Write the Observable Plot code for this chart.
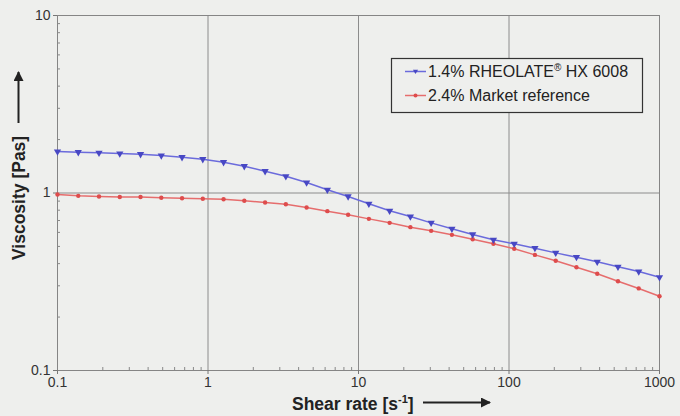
<!DOCTYPE html>
<html>
<head>
<meta charset="utf-8">
<script src="https://cdn.jsdelivr.net/npm/d3@7"></script>
<script src="https://cdn.jsdelivr.net/npm/@observablehq/plot@0.6"></script>
<style>
  html, body { margin: 0; padding: 0; background: #eeefed; }
  #chart svg { display: block; }
</style>
</head>
<body>
<div id="chart"></div>
<script>
// Shear rate [1/s] (30 log-spaced points, 0.1 .. 1000)
const shearRate = [0.1, 0.1374, 0.1887, 0.2593, 0.3562, 0.4894, 0.6723, 0.9237,
  1.269, 1.743, 2.395, 3.290, 4.520, 6.210, 8.532, 11.72, 16.10, 22.12, 30.39,
  41.75, 57.36, 78.80, 108.3, 148.7, 204.3, 280.7, 385.7, 529.8, 727.9, 1000];
// Viscosity [Pas]
const viscRheolate = [1.713, 1.698, 1.685, 1.669, 1.654, 1.627, 1.591, 1.550,
  1.491, 1.416, 1.327, 1.243, 1.146, 1.042, 0.956, 0.869, 0.794, 0.737, 0.679,
  0.629, 0.584, 0.545, 0.517, 0.489, 0.460, 0.435, 0.410, 0.384, 0.361, 0.335];
const viscMarket = [0.981, 0.964, 0.956, 0.950, 0.950, 0.941, 0.934, 0.928,
  0.923, 0.904, 0.884, 0.865, 0.829, 0.790, 0.754, 0.715, 0.679, 0.642, 0.612,
  0.581, 0.549, 0.517, 0.485, 0.448, 0.415, 0.382, 0.351, 0.318, 0.290, 0.262];
const seriesNames = ["1.4% RHEOLATE® HX 6008", "2.4% Market reference"];
const xTicks = [0.1, 1, 10, 100, 1000];
const yTicks = [0.1, 1, 10];
const xMinor = [0.2,0.3,0.4,0.5,0.6,0.7,0.8,0.9, 2,3,4,5,6,7,8,9, 20,30,40,50,60,70,80,90, 200,300,400,500,600,700,800,900];
const yMinor = [0.2,0.3,0.4,0.5,0.6,0.7,0.8,0.9, 2,3,4,5,6,7,8,9];

const colors = {
  blueLine: "#6b6bdc", blueDot: "#4848c4",
  redLine: "#e66d6d", redDot: "#de4c4c"
};

const rheo = shearRate.map((x, i) => ({x, y: viscRheolate[i]}));
const market = shearRate.map((x, i) => ({x, y: viscMarket[i]}));
const fmt = d => `${d}`;
const FONT = "'Liberation Sans', Arial, sans-serif";

const plot = Plot.plot({
  width: 680,
  height: 416,
  marginLeft: 57,
  marginRight: 21,
  marginTop: 15,
  marginBottom: 46,
  style: {background: "#eeefed", fontFamily: FONT, fontSize: "14px", color: "#333"},
  x: {type: "log", domain: [0.1, 1000]},
  y: {type: "log", domain: [0.1, 10]},
  marks: [
    Plot.gridX([1, 10, 100], {stroke: "#8c8c8c", strokeOpacity: 1, strokeWidth: 1}),
    Plot.gridY([1], {stroke: "#8c8c8c", strokeOpacity: 1, strokeWidth: 1}),
    Plot.frame({stroke: "#858585", strokeWidth: 1}),
    Plot.axisX(xMinor, {tickSize: -3, tickFormat: () => "", label: null, stroke: "#888"}),
    Plot.axisY(yMinor, {tickSize: -3, tickFormat: () => "", label: null, stroke: "#888"}),
    Plot.axisX(xTicks, {tickSize: 4, tickPadding: 3, tickFormat: fmt, label: null, stroke: "#777", fill: "#333", fontSize: 14}),
    Plot.axisY(yTicks, {tickSize: 4, tickPadding: 3, tickFormat: fmt, label: null, stroke: "#777", fill: "#333", fontSize: 14}),
    Plot.line(market, {x: "x", y: "y", stroke: colors.redLine, strokeWidth: 1.5}),
    Plot.dot(market, {x: "x", y: "y", r: 2.2, fill: colors.redDot, stroke: null}),
    Plot.line(rheo, {x: "x", y: "y", stroke: colors.blueLine, strokeWidth: 1.5}),
    Plot.dot(rheo, {x: "x", y: "y", symbol: "triangle", rotate: 180, r: 2.7, fill: colors.blueDot, stroke: null})
  ]
});

document.getElementById("chart").appendChild(plot);

const svg = d3.select(plot);
const defs = svg.append("defs");
defs.append("marker").attr("id", "arrowhead").attr("viewBox", "0 0 10 10")
  .attr("refX", 9).attr("refY", 5).attr("markerWidth", 5).attr("markerHeight", 5)
  .attr("orient", "auto-start-reverse").attr("markerUnits", "strokeWidth")
  .append("path").attr("d", "M0,0L10,5L0,10z").attr("fill", "#222");

// X axis title
const xt = svg.append("text").attr("x", 292).attr("y", 410).attr("text-anchor", "start")
  .attr("font-size", 17.5).attr("font-weight", "bold").attr("fill", "#222")
  .attr("font-family", FONT);
xt.append("tspan").text("Shear rate [s");
xt.append("tspan").attr("font-size", 11).attr("dy", -7).text("-1");
xt.append("tspan").attr("dy", 7).text("]");
svg.append("line").attr("x1", 423).attr("x2", 490).attr("y1", 402.5).attr("y2", 402.5)
  .attr("stroke", "#222").attr("stroke-width", 2).attr("marker-end", "url(#arrowhead)");

// Y axis title
svg.append("text").attr("transform", "translate(24.5,260) rotate(-90)").attr("text-anchor", "start")
  .attr("font-size", 17.5).attr("font-weight", "bold").attr("fill", "#222")
  .attr("font-family", FONT)
  .text("Viscosity [Pas]");
svg.append("line").attr("x1", 18.5).attr("x2", 18.5).attr("y1", 123).attr("y2", 72)
  .attr("stroke", "#222").attr("stroke-width", 2).attr("marker-end", "url(#arrowhead)");

// Legend
const lg = svg.append("g").attr("font-family", FONT).attr("text-anchor", "start");
lg.append("rect").attr("x", 391.5).attr("y", 58.5).attr("width", 251).attr("height", 54)
  .attr("fill", "#eeefed").attr("stroke", "#333").attr("stroke-width", 1.2);
const rows = [
  {name: seriesNames[0], y: 71.5, line: colors.blueLine, dot: colors.blueDot, tri: true},
  {name: seriesNames[1], y: 95.5, line: colors.redLine, dot: colors.redDot, tri: false}
];
rows.forEach(r => {
  lg.append("line").attr("x1", 405).attr("x2", 426).attr("y1", r.y).attr("y2", r.y)
    .attr("stroke", r.line).attr("stroke-width", 1.5);
  if (r.tri) {
    lg.append("path").attr("d", `M${415.5-2.6},${r.y-1.8} L${415.5+2.6},${r.y-1.8} L${415.5},${r.y+2.6}z`).attr("fill", r.dot);
  } else {
    lg.append("circle").attr("cx", 415.5).attr("cy", r.y).attr("r", 2).attr("fill", r.dot);
  }
  const t = lg.append("text").attr("x", 428).attr("y", r.y + 5.8).attr("font-size", 16).attr("fill", "#222");
  if (r.name.includes("®")) {
    const [a, b] = r.name.split("®");
    t.append("tspan").text(a);
    t.append("tspan").attr("font-size", 10).attr("dy", -6).text("®");
    t.append("tspan").attr("dy", 6).text(b);
  } else {
    t.text(r.name);
  }
});
</script>
</body>
</html>
